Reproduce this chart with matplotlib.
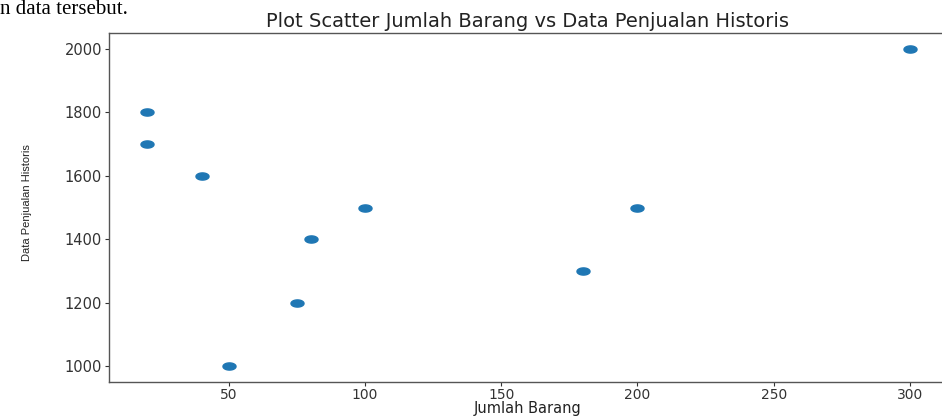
import numpy as np
import matplotlib
matplotlib.use("Agg")
import matplotlib.pyplot as plt
from matplotlib.path import Path

jumlah_barang = [20, 20, 40, 50, 75, 80, 100, 180, 200, 300]
penjualan = [1800, 1700, 1600, 1000, 1200, 1400, 1500, 1300, 1500, 2000]
xticks = [50, 100, 150, 200, 250, 300]
yticks = [1000, 1200, 1400, 1600, 1800, 2000]

W, H = 942, 417
fig = plt.figure(figsize=(W/100, H/100), dpi=100)
ax = fig.add_axes([109/W, 1-382/H, (948-109)/W, (382-33)/H])

t = np.linspace(0, 2*np.pi, 60)
ell = Path(np.column_stack([np.cos(t), 0.55*np.sin(t)]), closed=True)
ax.scatter(jumlah_barang, penjualan, s=88, marker=ell, color="#1f77b4")

ax.set_xticks(xticks)
ax.set_yticks(yticks)
for s in ax.spines.values():
    s.set_color("#555555")
    s.set_linewidth(1.0)
ax.spines["right"].set_visible(False)
ax.tick_params(labelsize=10.5, colors="#333333", length=3, pad=2)
ax.tick_params(axis="x", labelsize=10, pad=1)

fig.text(528/W, 1-27/H, "Plot Scatter Jumlah Barang vs Data Penjualan Historis",
         fontsize=14, color="#222222", ha="center", va="baseline")
fig.text(528/W, 0.5/H, "Jumlah Barang", fontsize=10.5, color="#222222",
         ha="center", va="bottom")
fig.text(27/W, 1-203/H, "Data Penjualan Historis", fontsize=8, family="Liberation Sans",
         color="#222222", rotation=90, ha="center", va="center")

fig.text(0.0, 1-14/H, "n data tersebut.", family="Liberation Serif",
         fontsize=15, va="baseline", ha="left", color="black")

fig.savefig("out.png", dpi=100)
